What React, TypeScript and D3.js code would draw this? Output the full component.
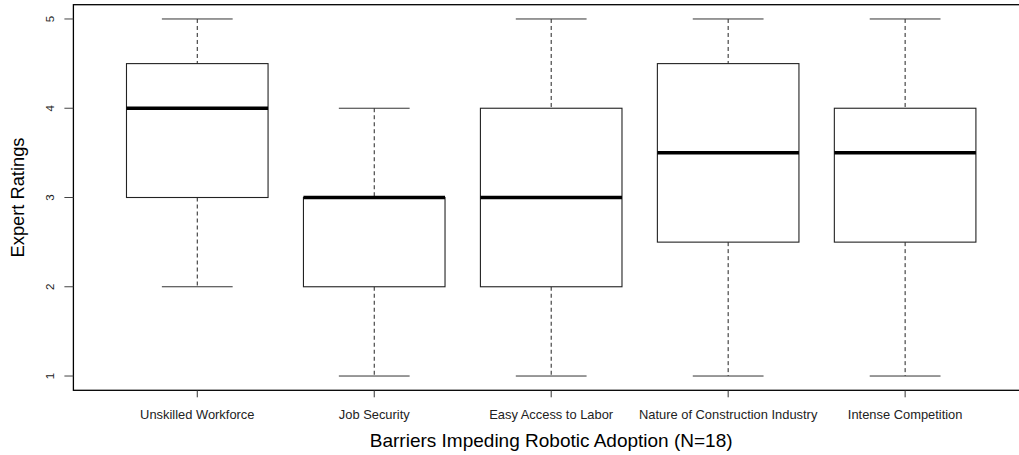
import React from "react";
import * as d3 from "d3";

const categories = [
  "Unskilled Workforce",
  "Job Security",
  "Easy Access to Labor",
  "Nature of Construction Industry",
  "Intense Competition",
];
const mins = [2, 1, 1, 1, 1];
const q1s = [3, 2, 2, 2.5, 2.5];
const medians = [4, 3, 3, 3.5, 3.5];
const q3s = [4.5, 3, 4, 4.5, 4];
const maxs = [5, 4, 5, 5, 5];
const yTicks = [1, 2, 3, 4, 5];

const W = 1019;
const H = 455;
const FONT = "Arial, 'Liberation Sans', sans-serif";

export default function App() {
  // R-style axes: 4% extension of the data range
  const x = d3.scaleLinear().domain([0.3, 5.7]).range([73.4, 1029]);
  const y = d3.scaleLinear().domain([0.84, 5.16]).range([390.3, 4.7]);
  const step = x(2) - x(1);
  const boxW = step * 0.8;
  const capW = boxW / 2;

  return (
    <div style={{ position: "absolute", left: 0, top: 0 }}>
      <svg width={W} height={H} style={{ display: "block", background: "#fff" }}>
        {/* frame */}
        <rect
          x={x(0.3)}
          y={y(5.16)}
          width={x(5.7) - x(0.3)}
          height={y(0.84) - y(5.16)}
          fill="none"
          stroke="#000"
          strokeWidth={1.3}
        />
        {categories.map((c, i) => {
          const cx = x(i + 1);
          return (
            <g key={c}>
              <line x1={cx} x2={cx} y1={y(maxs[i])} y2={y(q3s[i])} stroke="#222" strokeDasharray="4,3" />
              <line x1={cx} x2={cx} y1={y(q1s[i])} y2={y(mins[i])} stroke="#222" strokeDasharray="4,3" />
              <line x1={cx - capW / 2} x2={cx + capW / 2} y1={y(maxs[i])} y2={y(maxs[i])} stroke="#333" />
              <line x1={cx - capW / 2} x2={cx + capW / 2} y1={y(mins[i])} y2={y(mins[i])} stroke="#333" />
              <rect
                x={cx - boxW / 2}
                y={y(q3s[i])}
                width={boxW}
                height={y(q1s[i]) - y(q3s[i])}
                fill="#fff"
                stroke="#222"
                strokeWidth={1.1}
              />
              <line
                x1={cx - boxW / 2}
                x2={cx + boxW / 2}
                y1={y(medians[i])}
                y2={y(medians[i])}
                stroke="#000"
                strokeWidth={3.5}
              />
              <line x1={cx} x2={cx} y1={y(0.84)} y2={y(0.84) + 7} stroke="#333" />
              <text x={cx} y={418.5} textAnchor="middle" fontFamily={FONT} fontSize={12.9} fill="#222">
                {c}
              </text>
            </g>
          );
        })}
        {yTicks.map((t) => (
          <g key={t}>
            <line x1={x(0.3) - 9} x2={x(0.3)} y1={y(t)} y2={y(t)} stroke="#444" />
            <text
              transform={`translate(${54},${y(t)}) rotate(-90)`}
              textAnchor="middle"
              fontFamily={FONT}
              fontSize={11.5}
              fill="#222"
            >
              {t}
            </text>
          </g>
        ))}
        <text
          transform={`translate(24,${y(3)}) rotate(-90)`}
          textAnchor="middle"
          fontFamily={FONT}
          fontSize={18.3}
          fill="#000"
        >
          Expert Ratings
        </text>
        <text x={x(3)} y={447} textAnchor="middle" fontFamily={FONT} fontSize={19} fill="#000">
          Barriers Impeding Robotic Adoption (N=18)
        </text>
      </svg>
    </div>
  );
}
